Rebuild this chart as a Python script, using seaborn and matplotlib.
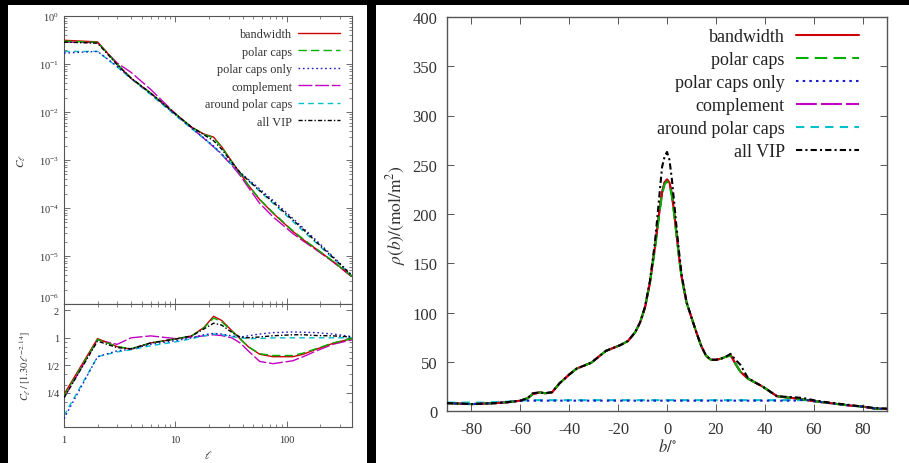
import matplotlib
matplotlib.use("Agg")
import numpy as np
import pandas as pd
import matplotlib.pyplot as plt
import seaborn as sns
from matplotlib.patches import Rectangle
from matplotlib.ticker import NullFormatter, FixedLocator, FixedFormatter, MultipleLocator

sns.set_theme(style="ticks")
plt.rcParams['font.family'] = ['Liberation Serif', 'DejaVu Serif']
plt.rcParams['mathtext.fontset'] = 'stix'
plt.rcParams['axes.unicode_minus'] = False

# ---------------- angular power spectrum C_ell ----------------
ell = [1, 2, 3, 4, 6, 10, 14, 18, 22, 26, 32, 38, 45, 57, 75, 113, 140, 184, 260, 384]

cl_bandwidth = [0.312, 0.289, 0.0991, 0.0502, 0.0247, 0.00913, 0.00481, 0.00348, 0.00300, 0.00189,
                9.38e-4, 5.30e-4, 3.01e-4, 1.50e-4, 7.83e-5, 3.26e-5, 2.19e-5, 1.39e-5, 7.68e-6, 3.76e-6]
cl_polar_caps = [0.299, 0.283, 0.0991, 0.0508, 0.0247, 0.00913, 0.00481, 0.00343, 0.00287, 0.00183,
                 9.22e-4, 5.25e-4, 3.01e-4, 1.52e-4, 8.08e-5, 3.36e-5, 2.26e-5, 1.41e-5, 7.77e-6, 3.76e-6]
cl_polar_only = [0.169, 0.183, 0.0892, 0.0502, 0.0239, 0.00876, 0.00458, 0.00289, 0.00195, 0.00134,
                 8.21e-4, 5.52e-4, 3.96e-4, 2.50e-4, 1.44e-4, 6.09e-5, 3.82e-5, 2.11e-5, 9.71e-6, 3.95e-6]
cl_complement = [0.286, 0.280, 0.105, 0.0669, 0.0295, 0.00923, 0.00468, 0.00281, 0.00188, 0.00129,
                 7.81e-4, 4.76e-4, 2.71e-4, 1.25e-4, 6.57e-5, 2.94e-5, 2.06e-5, 1.33e-5, 7.51e-6, 3.64e-6]
cl_around = [0.182, 0.183, 0.0867, 0.0495, 0.0230, 0.00848, 0.00449, 0.00281, 0.00192, 0.00132,
             8.05e-4, 5.41e-4, 3.69e-4, 2.23e-4, 1.26e-4, 5.25e-5, 3.32e-5, 1.85e-5, 8.83e-6, 3.83e-6]
cl_all_vip = [0.286, 0.271, 0.0966, 0.0508, 0.0247, 0.00913, 0.00481, 0.00335, 0.00252, 0.00168,
              8.99e-4, 5.52e-4, 3.77e-4, 2.32e-4, 1.33e-4, 5.67e-5, 3.59e-5, 1.96e-5, 9.27e-6, 3.91e-6]

# reference power law used for the ratio panel
model_amp = 1.30
model_slope = 2.14

# ---------------- latitude profile rho(b) ----------------
b_deg = [-90, -85, -80, -75, -70, -65, -60, -57, -55, -52, -50, -47, -44, -40, -37, -34, -31, -28, -25, -22,
         -19, -16, -13, -11, -9, -7, -5, -4, -3, -2, -1, 0, 1, 2, 3, 4, 5, 6, 8, 10,
         12, 14, 16, 18, 20, 22, 24, 26, 28, 30, 33, 36, 39, 42, 45, 48, 52, 56, 60, 65,
         70, 75, 80, 85, 90]

rho_bandwidth = [8, 7.5, 7, 7.5, 8, 9, 10.5, 13, 17, 19, 18, 19, 28, 37, 43, 46, 49, 55, 61, 64,
                 67, 71, 80, 90, 105, 130, 165, 185, 205, 222, 232, 235, 232, 220, 200, 178, 155, 136, 110, 95,
                 80, 66, 56, 52, 52, 53, 55, 57, 48, 40, 33, 29, 25, 20, 15, 14, 13, 11.5, 10, 8.5,
                 7, 5.5, 4.5, 2.5, 2]
rho_polar_caps = [8, 7.5, 7, 7.5, 8, 9, 10.5, 13, 17, 19, 18, 19, 28, 37, 43, 46, 49, 55, 61, 64,
                  67, 71, 80, 90, 105, 130, 163, 183, 203, 220, 230, 233, 230, 218, 198, 176, 154, 135, 110, 95,
                  80, 66, 56, 52, 52, 53, 55, 56, 48, 40, 33, 29, 25, 20, 15, 14, 13, 11.5, 10, 8.5,
                  7, 5.5, 4.5, 2.5, 2]
rho_polar_only = [8, 7.5, 7, 7.5, 8, 9, 10.5, 10.5, 10.5, 10.5, 10.5, 10.5, 10.5, 10.5, 10.5, 10.5, 10.5, 10.5, 10.5, 10.5,
                  10.5, 10.5, 10.5, 10.5, 10.5, 10.5, 10.5, 10.5, 10.5, 10.5, 10.5, 10.5, 10.5, 10.5, 10.5, 10.5, 10.5, 10.5, 10.5, 10.5,
                  10.5, 10.5, 10.5, 10.5, 10.5, 10.5, 10.5, 10.5, 10.5, 10.5, 10.5, 10.5, 10.5, 10.5, 10.5, 10.5, 10.5, 11.5, 10, 8.5,
                  7, 5.5, 4.5, 2.5, 2]
rho_complement = [8, 7.5, 7, 7.5, 8, 9, 10.5, 13, 17, 19, 18, 19, 28, 37, 43, 46, 49, 55, 61, 64,
                  67, 71, 80, 90, 105, 130, 165, 185, 205, 222, 232, 235, 232, 220, 200, 178, 155, 136, 110, 95,
                  80, 66, 56, 52, 52, 53, 55, 57, 48, 40, 33, 29, 25, 20, 15, 14, 13, 11.5, 10, 8.5,
                  7, 5.5, 4.5, 2.5, 2]
rho_around = [8.5, 8.5, 8.5, 8.5, 9, 9.5, 10.5, 11, 11, 11, 11, 11, 11, 11, 11, 11, 11, 11, 11, 11,
              11, 11, 11, 11, 11, 11, 11, 11, 11, 11, 11, 11, 11, 11, 11, 11, 11, 11, 11, 11,
              11, 11, 11, 11, 11, 11, 11, 11, 11, 11, 11, 11, 11, 11, 11, 11, 11, 11, 10, 8.5,
              7, 5.5, 4.5, 2.5, 2]
rho_all_vip = [8, 7.5, 7, 7.5, 8, 9, 10.5, 13, 18, 19, 18, 19, 28, 37, 43, 46, 49, 55, 61, 64,
               67, 71, 80, 90, 106, 132, 170, 195, 222, 248, 258, 263, 255, 235, 210, 184, 160, 138, 111, 95,
               80, 66, 56, 52, 52, 53, 55, 58, 52, 47, 34, 29, 25, 20, 15, 14.5, 14, 13, 11, 9,
               7.5, 6, 4.5, 3, 2.5]

names = ["bandwidth", "polar caps", "polar caps only", "complement", "around polar caps", "all VIP"]
colors = ["#cc0000", "#00b000", "#1a1ad0", "#c000c0", "#00c0c8", "#000000"]
dashes = ["-", (0, (6, 3)), (0, (1.2, 2)), (0, (10, 2)), (0, (4, 3)), (0, (3, 1.5, 1, 1.5))]
layer = [3, 4, 5, 1, 2, 6]

cl_series = [cl_bandwidth, cl_polar_caps, cl_polar_only, cl_complement, cl_around, cl_all_vip]
rho_series = [rho_bandwidth, rho_polar_caps, rho_polar_only, rho_complement, rho_around, rho_all_vip]

# ---------------- figure ----------------
W, H = 909, 464
fig = plt.figure(figsize=(W / 100, H / 100), dpi=100)
fig.patch.set_facecolor("black")


def fx(px):
    return px / W


def fy(py):
    return 1 - py / H


fig.add_artist(Rectangle((fx(8), 0), fx(359), fy(6), transform=fig.transFigure,
                         facecolor="white", edgecolor="none", zorder=-5))
fig.add_artist(Rectangle((fx(376), 0), fx(533), fy(6), transform=fig.transFigure,
                         facecolor="white", edgecolor="none", zorder=-5))

ax_cl = fig.add_axes([fx(64), fy(305), fx(288), (305 - 17) / H])
ax_r = fig.add_axes([fx(64), fy(428), fx(288), (428 - 305) / H])
ax_rho = fig.add_axes([fx(447), fy(412), fx(440), (412 - 18) / H])

ell_arr = np.array(ell, dtype=float)
model = model_amp * ell_arr ** (-model_slope)

for name, c, ls, z, cl in zip(names, colors, dashes, layer, cl_series):
    df = pd.DataFrame({"ell": ell_arr, "cl": cl, "ratio": np.array(cl) / model})
    sns.lineplot(data=df, x="ell", y="cl", ax=ax_cl, color=c, linestyle=ls, lw=1.0,
                 label=name, sort=False, estimator=None, zorder=z)
    sns.lineplot(data=df, x="ell", y="ratio", ax=ax_r, color=c, linestyle=ls, lw=1.0,
                 legend=False, sort=False, estimator=None, zorder=z)

for name, c, ls, z, rho in zip(names, colors, dashes, layer, rho_series):
    df = pd.DataFrame({"b": b_deg, "rho": rho})
    sns.lineplot(data=df, x="b", y="rho", ax=ax_rho, color=c, linestyle=ls, lw=1.5,
                 label=name, sort=False, estimator=None, zorder=z)

# ---- styling of the spectrum panels
for ax in (ax_cl, ax_r):
    ax.set_xscale("log")
    ax.set_yscale("log")
    ax.set_xlim(1, 384)
    ax.tick_params(which="both", direction="in", top=True, right=True, labelsize=7.5,
                   color="#555555", labelcolor="#333333")
    ax.tick_params(which="major", length=4, width=0.6)
    ax.tick_params(which="minor", length=2, width=0.5)
    for s in ax.spines.values():
        s.set_color("#555555")
        s.set_linewidth(0.8)
    ax.set_facecolor("white")

ax_cl.set_ylim(1e-6, 1)
ax_cl.yaxis.set_major_locator(FixedLocator([1e-6, 1e-5, 1e-4, 1e-3, 1e-2, 1e-1, 1]))
ax_cl.tick_params(axis="x", labelbottom=False)
ax_cl.set_xlabel("")
ax_cl.set_ylabel(r"$C_\ell$", fontsize=8, color="#333333", labelpad=8)

ax_r.set_ylim(0.105, 2.35)
ax_r.yaxis.set_major_locator(FixedLocator([0.25, 0.5, 1, 2]))
ax_r.yaxis.set_major_formatter(FixedFormatter(["1/4", "1/2", "1", "2"]))
ax_r.yaxis.set_minor_formatter(NullFormatter())
ax_r.set_xticks([1, 10, 100])
ax_r.set_xticklabels(["1", "10", "100"])
ax_r.tick_params(axis="x", pad=6)
ax_r.set_xlabel(r"$\ell$", fontsize=8, color="#333333", labelpad=3)
ax_r.set_ylabel(r"$C_\ell\,/\,[1.30\,\ell^{-2.14}]$", fontsize=7.5, color="#333333", labelpad=10)

# the lowest decade label of the upper panel sits right on the panel joint: lift it a little
fig.canvas.draw()
for tick in ax_cl.yaxis.get_major_ticks():
    if abs(tick.get_loc() - 1e-6) < 1e-12:
        tick.label1.set_verticalalignment("bottom")

leg1 = ax_cl.legend(loc="upper right", frameon=False, fontsize=8.8, markerfirst=False,
                    handlelength=3.4, labelspacing=0.45, borderaxespad=0.6, handletextpad=0.5)
for t in leg1.get_texts():
    t.set_color("#333333")

# ---- styling of the latitude panel
ax_rho.set_xlim(-90, 90)
ax_rho.set_ylim(0, 400)
ax_rho.set_xticks(range(-80, 81, 20))
ax_rho.yaxis.set_major_locator(MultipleLocator(50))
ax_rho.tick_params(which="both", direction="in", top=True, right=True, labelsize=12,
                   length=5, width=0.7, color="#555555", labelcolor="#333333", pad=7)
for s in ax_rho.spines.values():
    s.set_color("#555555")
    s.set_linewidth(1.0)
ax_rho.set_xlabel(r"$b/^{\circ}$", fontsize=12, color="#333333", labelpad=1)
ax_rho.set_ylabel(r"$\rho(b)/(\mathrm{mol/m}^2)$", fontsize=12.5, color="#333333", labelpad=3)

leg2 = ax_rho.legend(loc="upper right", bbox_to_anchor=(0.948, 0.985), frameon=False,
                     fontsize=13, markerfirst=False, handlelength=3.5, labelspacing=0.33,
                     borderaxespad=0.0, handletextpad=0.6, borderpad=0.3)
for t in leg2.get_texts():
    t.set_color("#222222")

fig.savefig("out.png", dpi=100, facecolor=fig.get_facecolor())
